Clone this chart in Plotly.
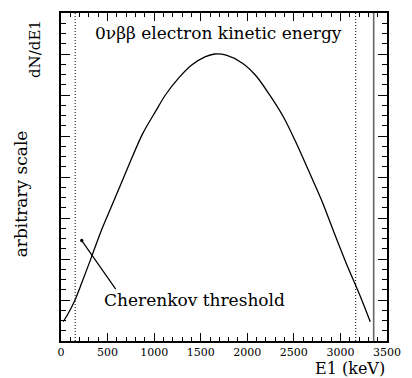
import plotly.graph_objects as go

# --- data ---
energy_keV = [24, 77, 148, 220, 326, 432, 538, 732, 873, 1015, 1121, 1262,
              1403, 1545, 1651, 1774, 1952, 2093, 2235, 2394, 2517, 2659,
              2800, 2924, 3065, 3171, 3259, 3320]
dnde = [0.47, 0.67, 0.99, 1.40, 2.04, 2.69, 3.26, 4.31, 5.04, 5.60, 6.00, 6.41,
        6.73, 6.93, 7.00, 6.97, 6.77, 6.47, 6.02, 5.44, 4.87, 4.15,
        3.42, 2.69, 1.88, 1.32, 0.83, 0.47]
cherenkov_lines_keV = [152, 3164]
q_value_keV = 3357
x_ticks = [0, 500, 1000, 1500, 2000, 2500, 3000, 3500]
arrow_head = (223, 2.45)

FONT = "DejaVu Serif"

fig = go.Figure()
fig.add_trace(go.Scatter(x=energy_keV, y=dnde, mode="lines",
                         line=dict(color="black", width=1.3, shape="spline", smoothing=0.8),
                         showlegend=False, hoverinfo="skip"))

shapes = []
for xv in cherenkov_lines_keV:
    shapes.append(dict(type="line", xref="x", yref="paper", x0=xv, x1=xv, y0=0, y1=1,
                       line=dict(color="black", width=1, dash="1px,2px")))
shapes.append(dict(type="line", xref="x", yref="paper", x0=q_value_keV, x1=q_value_keV,
                   y0=0, y1=1, line=dict(color="#666666", width=1.6)))

annotations = [
    dict(text="0νββ electron kinetic energy", xref="paper", yref="paper",
         x=0.097, y=0.94, xanchor="left", yanchor="middle", showarrow=False,
         font=dict(family=FONT, size=17, color="black")),
    dict(text="Cherenkov threshold", xref="paper", yref="paper",
         x=0.125, y=0.125, xanchor="left", yanchor="middle", showarrow=False,
         font=dict(family=FONT, size=17, color="black")),
    dict(text="", x=arrow_head[0], y=arrow_head[1], xref="x", yref="y",
         ax=35, ay=50, showarrow=True, arrowhead=6, arrowsize=0.7, arrowwidth=1.2,
         arrowcolor="black"),
    dict(text="E1 (keV)", xref="paper", yref="paper", x=1.0, y=-0.085,
         xanchor="right", yanchor="middle", showarrow=False,
         font=dict(family=FONT, size=16, color="black")),
    dict(text="arbitrary scale", xref="paper", yref="paper", x=-0.12, y=0.45,
         xanchor="center", yanchor="middle", textangle=-90, showarrow=False,
         font=dict(family=FONT, size=17, color="black")),
    dict(text="dN/dE1", xref="paper", yref="paper", x=-0.08, y=0.89,
         xanchor="center", yanchor="middle", textangle=-90, showarrow=False,
         font=dict(family=FONT, size=15, color="black")),
]

fig.update_layout(
    width=412, height=378,
    margin=dict(l=61, r=21, t=11, b=37),
    paper_bgcolor="white", plot_bgcolor="white",
    shapes=shapes, annotations=annotations,
    xaxis=dict(range=[0, 3500], tickvals=x_ticks, ticks="inside", ticklen=8,
               tickwidth=1, tickcolor="black",
               minor=dict(dtick=100, ticks="inside", ticklen=4, tickcolor="black"),
               showline=True, linecolor="black", linewidth=1.5, mirror="allticks",
               showgrid=False, zeroline=False,
               tickfont=dict(family=FONT, size=11, color="black")),
    yaxis=dict(range=[0, 8], dtick=1, ticks="inside", ticklen=9, tickwidth=1,
               tickcolor="black",
               minor=dict(dtick=0.25, ticks="inside", ticklen=5, tickcolor="black"),
               showticklabels=False,
               showline=True, linecolor="black", linewidth=1.5, mirror="allticks",
               showgrid=False, zeroline=False),
)

fig.write_html("out.html")
